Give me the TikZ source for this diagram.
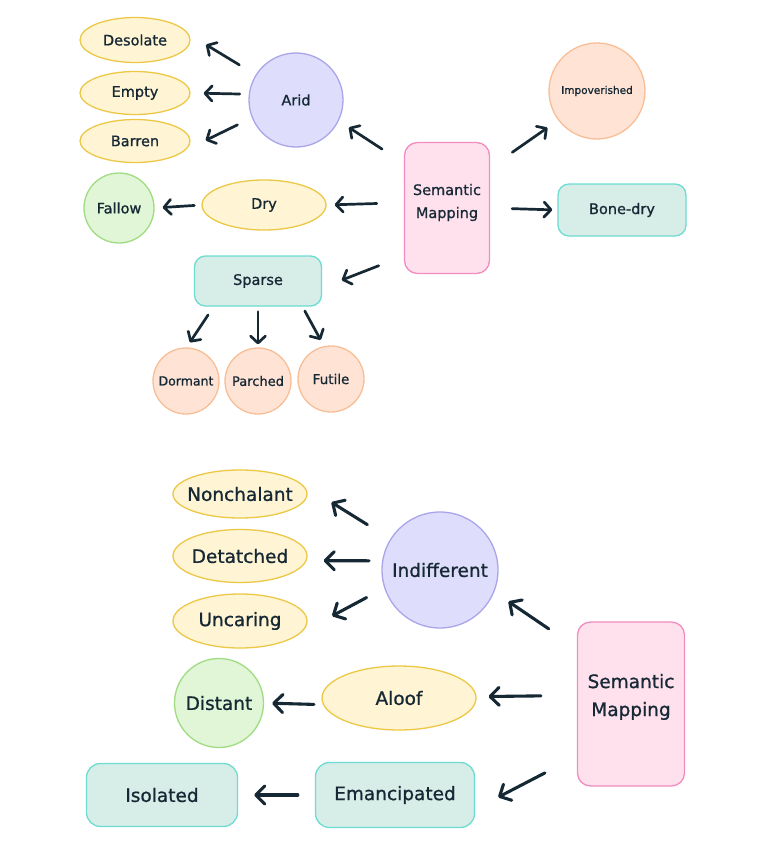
\documentclass[tikz,border=0pt]{standalone}
\usepackage{fontspec}
\setmainfont{DejaVu Sans}[FakeBold=0.9]
\usetikzlibrary{arrows.meta,shapes.geometric}
\definecolor{ink}{RGB}{22,40,52}
\definecolor{yelF}{RGB}{255,245,212}
\definecolor{yelD}{RGB}{236,200,70}
\definecolor{lavF}{RGB}{222,222,252}
\definecolor{lavD}{RGB}{170,165,235}
\definecolor{grnF}{RGB}{225,245,215}
\definecolor{grnD}{RGB}{160,220,130}
\definecolor{pnkF}{RGB}{255,225,238}
\definecolor{pnkD}{RGB}{242,140,190}
\definecolor{pchF}{RGB}{255,228,214}
\definecolor{pchD}{RGB}{248,190,150}
\definecolor{teaF}{RGB}{214,237,232}
\definecolor{teaD}{RGB}{110,220,210}
\newcommand{\zw}[1]{\makebox[0pt][c]{#1}}
\begin{document}
\begin{tikzpicture}[x=1pt,y=-1pt,
  base/.style={inner sep=0pt, line width=1.3pt, text=ink, font=\fontsize{14.5}{23}\selectfont, align=center},
  yel/.style={base, ellipse, fill=yelF, draw=yelD},
  lav/.style={base, circle, fill=lavF, draw=lavD},
  grn/.style={base, circle, fill=grnF, draw=grnD},
  pch/.style={base, circle, fill=pchF, draw=pchD},
  tea/.style={base, rectangle, rounded corners=11pt, fill=teaF, draw=teaD},
  pnk/.style={base, rectangle, rounded corners=13pt, fill=pnkF, draw=pnkD},
  big/.style={font=\fontsize{18.5}{28}\selectfont},
  arr/.style={draw=ink, line width=2.7pt, line cap=round, -{Straight Barb[length=7pt,width=15pt,round]}},
  arrB/.style={draw=ink, line width=3.1pt, line cap=round, -{Straight Barb[length=9pt,width=18pt,round]}}]
\useasboundingbox[fill=white] (0,0) rectangle (768,862);

% top diagram
\node[yel, minimum width=110, minimum height=45] (desolate) at (135,40) {\zw{Desolate}};
\node[yel, minimum width=110, minimum height=43] (empty) at (135,93) {\zw{Empty}};
\node[yel, minimum width=110, minimum height=43] (barren) at (135,141) {\zw{Barren}};
\node[lav, minimum size=94] (arid) at (296,100) {Arid};
\node[grn, minimum size=70] (fallow) at (119,208) {Fallow};
\node[yel, minimum width=124, minimum height=50] (dry) at (264,205) {Dry};
\node[pnk, minimum width=85, minimum height=131, text depth=14pt] (smA) at (447,208) {Semantic\\Mapping};
\node[pch, minimum size=96, font=\fontsize{10.5}{12}\selectfont] (impov) at (597,91) {Impoverished};
\node[tea, minimum width=128, minimum height=52] (bonedry) at (622,210) {Bone-dry};
\node[tea, minimum width=127, minimum height=50] (sparse) at (258,281) {Sparse};
\node[pch, minimum size=66, font=\fontsize{12.5}{14}\selectfont] (dormant) at (186,381) {Dormant};
\node[pch, minimum size=66, font=\fontsize{13}{15}\selectfont] (parched) at (258,381) {Parched};
\node[pch, minimum size=66, font=\fontsize{13.5}{15}\selectfont] (futile) at (331,379) {Futile};

\draw[arr, shorten <=19pt, shorten >=20pt] (arid.148) -- (desolate.6);
\draw[arr, shorten <=9pt, shorten >=13pt] (arid.173) -- (empty.east);
\draw[arr, shorten <=16pt, shorten >=22pt] (arid.202) -- (barren.-10);
\draw[arr, shorten <=26pt, shorten >=12pt] (smA.134) -- (arid.-26);
\draw[arr, shorten <=27pt, shorten >=8pt] (smA.173) -- (dry.east);
\draw[arr, shorten <=7pt, shorten >=8pt] (dry.west) -- (fallow.east);
\draw[arr, shorten <=27pt, shorten >=21pt] (smA.228) -- (sparse.-6);
\draw[arr, shorten <=27pt, shorten >=13pt] (smA.43) -- (impov.217);
\draw[arr, shorten <=22pt, shorten >=5pt] (smA.east) -- (bonedry.west);
\draw[arr, shorten <=10pt, shorten >=6pt] (sparse.210) -- (dormant.89);
\draw[arr, shorten <=5pt, shorten >=3pt] (sparse.south) -- (parched.north);
\draw[arr, shorten <=5pt, shorten >=7pt] (sparse.-30) -- (futile.102);

% bottom diagram
\node[yel, big, minimum width=134, minimum height=48] (nonch) at (240,494) {\zw{Nonchalant}};
\node[yel, big, minimum width=134, minimum height=53] (detat) at (240,556) {\zw{Detatched}};
\node[yel, big, minimum width=134, minimum height=54] (uncar) at (240,621) {\zw{Uncaring}};
\node[lav, big, minimum size=116] (indiff) at (440,570) {Indifferent};
\node[pnk, big, minimum width=107, minimum height=164, text depth=18pt] (smB) at (631,704) {Semantic\\Mapping};
\node[grn, big, minimum size=89] (distant) at (219,703) {Distant};
\node[yel, big, minimum width=154, minimum height=64] (aloof) at (399,698) {\zw{Aloof}};
\node[tea, big, minimum width=151, minimum height=63, rounded corners=14pt] (isolated) at (162,795) {Isolated};
\node[tea, big, minimum width=159, minimum height=65, rounded corners=14pt] (emanc) at (395,795) {Emancipated};

\draw[arrB, shorten <=27pt, shorten >=36pt] (indiff.148) -- (nonch.10);
\draw[arrB, shorten <=13pt, shorten >=17pt] (indiff.171) -- (detat.-4);
\draw[arrB, shorten <=20pt, shorten >=34pt] (indiff.198) -- (uncar.-10);
\draw[arrB, shorten <=34pt, shorten >=17pt] (smB.134) -- (indiff.-22);
\draw[arrB, shorten <=36pt, shorten >=12pt] (smB.171) -- (aloof.1);
\draw[arrB, shorten <=9pt, shorten >=8pt] (aloof.185) -- (distant.east);
\draw[arrB, shorten <=36pt, shorten >=26pt] (smB.224) -- (emanc.-10);
\draw[arrB, shorten <=17pt, shorten >=16pt] (emanc.west) -- (isolated.east);
\end{tikzpicture}
\end{document}
